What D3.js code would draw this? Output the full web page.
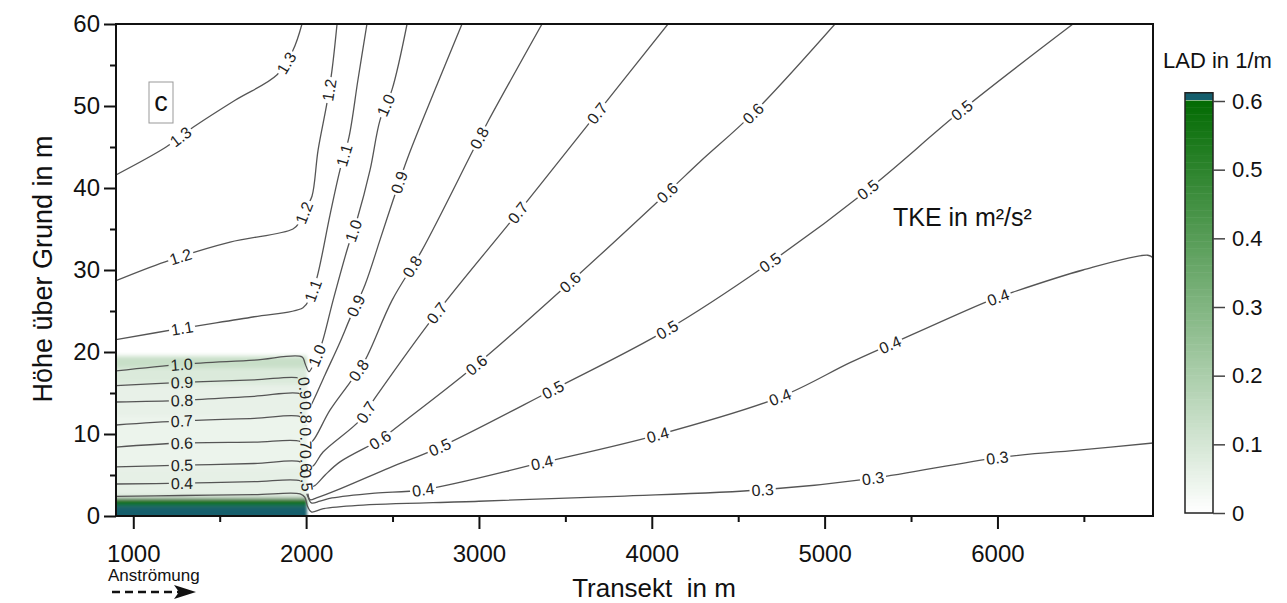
<!DOCTYPE html>
<html>
<head>
<meta charset="utf-8">
<script src="https://cdn.jsdelivr.net/npm/d3@7"></script>
<style>
body { margin: 0; background: #fff; }
svg text { font-family: "Liberation Sans", Arial, sans-serif; }
</style>
</head>
<body>
<div id="chart"></div>
<script>
// axes
var xDomain = [900, 6900];
var zDomain = [0, 60];
var xTicks = [1000, 2000, 3000, 4000, 5000, 6000];
var xMinor = [1500, 2500, 3500, 4500, 5500, 6500];
var zTicks = [0, 10, 20, 30, 40, 50, 60];
var zMinor = [5, 15, 25, 35, 45, 55];
var ladTicks = [0, 0.1, 0.2, 0.3, 0.4, 0.5, 0.6];

// forest block (m) and leaf area density profile
var forestX = [900, 2005];
var ladBands = [0, 1.3, 2.2, 3, 6, 12, 16, 18, 19.5];
var ladValues = [0.65, 0.58, 0.07, 0.06, 0.045, 0.055, 0.085, 0.13];

// TKE isolines [x in m, z in m] and label spots
var c13 = [[900,41.6],[1190,45.0],[1346,47.4],[1589,50.7],[1832,53.8],[1924,56.8],[1976,60]];
var l13 = [[1270,46.3],[1878,55.3]];
var c12 = [[900,28.7],[1184,31.0],[1560,33.4],[1924,35.0],[1965,35.9],[2000,37.6],[2034,39.0],[2069,44.6],[2121,50.4],[2150,54.4],[2179,60]];
var l12 = [[1282,31.2],[1985,37.0],[2132,52.0]];
var c11 = [[900,21.5],[1282,22.9],[1700,24.3],[1982,25.4],[2022,26.6],[2063,29.1],[2138,36.7],[2196,42.2],[2248,46.2],[2300,53.2],[2352,60]];
var l11 = [[1282,22.9],[2035,27.5],[2213,44.0]];
var c10 = [[900,17.7],[1282,18.5],[1700,19.0],[1976,19.4],[1994,18.6],[2017,17.6],[2063,19.6],[2092,21.1],[2156,26.3],[2242,32.8],[2294,36.1],[2370,42.2],[2428,48.3],[2497,52.0],[2584,60]];
var l10 = [[1282,18.5],[2063,19.6],[2259,34.9],[2462,50.1]];
var c09 = [[900,15.9],[1282,16.3],[1700,16.6],[1965,16.8],[1988,16.2],[1998,14.5],[2012,13.0],[2040,14.0],[2109,17.2],[2196,21.2],[2254,24.1],[2341,28.2],[2428,33.7],[2503,38.5],[2590,43.8],[2746,52.0],[2902,60]];
var l09 = [[1282,16.3],[1998,15.6],[2294,25.6],[2543,40.6]];
var c08 = [[900,13.9],[1282,14.1],[1700,14.6],[1965,14.9],[1990,14.2],[2002,11.5],[2016,8.9],[2040,9.2],[2138,12.9],[2254,16.3],[2341,19.0],[2497,26.3],[2670,32.4],[2966,44.6],[3047,47.9],[3365,60]];
var l08 = [[1282,14.1],[1998,12.6],[2300,17.8],[2618,30.4],[3006,46.1]];
var c07 = [[900,11.1],[1282,11.6],[1700,11.9],[1965,12.1],[1990,11.4],[2002,8.5],[2018,5.9],[2045,6.2],[2098,7.8],[2312,11.7],[2399,14.4],[2757,24.8],[3226,37.0],[3683,49.1],[4094,60]];
var l07 = [[1282,11.6],[1998,9.5],[2341,12.7],[2757,24.8],[3226,37.0],[3683,49.1]];
var c06 = [[900,8.4],[1282,8.9],[1700,9.0],[1965,9.1],[1990,8.5],[2003,6.0],[2020,3.5],[2050,3.7],[2110,5.0],[2196,6.6],[2428,9.3],[2485,10.2],[2983,18.4],[3527,28.5],[4088,39.4],[4279,43.2],[4586,49.1],[5060,60]];
var l06 = [[1282,8.9],[1998,6.7],[2428,9.3],[2983,18.4],[3527,28.5],[4088,39.4],[4586,49.1]];
var c05 = [[900,6.0],[1282,6.2],[1700,6.4],[1965,6.6],[1990,6.0],[2004,4.0],[2022,2.0],[2060,2.2],[2196,3.3],[2485,5.9],[2775,8.4],[3428,15.4],[4088,22.7],[4684,30.9],[5251,39.8],[5795,49.5],[6437,60]];
var l05 = [[1282,6.2],[1998,4.3],[2775,8.4],[3428,15.4],[4088,22.7],[4684,30.9],[5251,39.8],[5795,49.5]];
var c04 = [[900,3.9],[1282,4.0],[1700,4.2],[1965,4.3],[1990,3.8],[2006,2.6],[2030,1.6],[2080,1.8],[2150,2.2],[2399,2.8],[2676,3.2],[3365,6.5],[4036,9.9],[4742,14.5],[5147,18.7],[5378,20.9],[5957,26.3],[6090,27.3],[6495,30.0],[6870,31.8],[6900,31.5]];
var l04 = [[1282,4.0],[2676,3.2],[3365,6.5],[4036,9.9],[4742,14.5],[5378,20.9],[6003,26.6]];
var c03 = [[900,2.4],[1282,2.5],[1700,2.6],[1965,2.7],[1992,2.3],[2008,1.2],[2030,0.5],[2100,0.9],[2300,1.3],[3000,1.8],[3800,2.4],[4644,3.2],[5280,4.6],[5997,7.1],[6500,8.1],[6900,8.9]];
var l03 = [[4644,3.2],[5280,4.6],[5997,7.1]];

var contours = [
    {level: "1.3", pts: c13, labels: l13},
    {level: "1.2", pts: c12, labels: l12},
    {level: "1.1", pts: c11, labels: l11},
    {level: "1.0", pts: c10, labels: l10},
    {level: "0.9", pts: c09, labels: l09},
    {level: "0.8", pts: c08, labels: l08},
    {level: "0.7", pts: c07, labels: l07},
    {level: "0.6", pts: c06, labels: l06},
    {level: "0.5", pts: c05, labels: l05},
    {level: "0.4", pts: c04, labels: l04},
    {level: "0.3", pts: c03, labels: l03}
];

var width = 1287, height = 603;
var pLeft = 116, pRight = 1153, pTop = 24, pBottom = 516;

var svg = d3.select("#chart").append("svg")
    .attr("width", width)
    .attr("height", height);

var x = d3.scaleLinear().domain(xDomain).range([pLeft, pRight]);
var y = d3.scaleLinear().domain(zDomain).range([pBottom, pTop]);

var ladColor = function(v) {
    if (v > 0.6) return "#145e6c";
    return d3.interpolateRgb("#ffffff", "#036b03")(v / 0.6);
};

var defs = svg.append("defs");
defs.append("clipPath").attr("id", "plotclip")
    .append("rect")
    .attr("x", pLeft).attr("y", pTop)
    .attr("width", pRight - pLeft).attr("height", pBottom - pTop);
defs.append("filter").attr("id", "soft")
    .attr("x", "-5%").attr("y", "-10%").attr("width", "110%").attr("height", "120%")
    .append("feGaussianBlur").attr("stdDeviation", "1.8 2.2");

var mask = defs.append("mask").attr("id", "labelmask")
    .attr("maskUnits", "userSpaceOnUse")
    .attr("x", 0).attr("y", 0).attr("width", width).attr("height", height);
mask.append("rect").attr("width", width).attr("height", height).attr("fill", "#fff");

// forest LAD fill
var forest = svg.append("g").attr("clip-path", "url(#plotclip)")
    .append("g").attr("filter", "url(#soft)");
ladValues.forEach(function(v, i) {
    var z0 = i === 0 ? -2 : ladBands[i];
    forest.append("rect")
        .attr("x", x(forestX[0] - 200))
        .attr("y", y(ladBands[i + 1]))
        .attr("width", x(forestX[1]) - x(forestX[0] - 200))
        .attr("height", y(z0) - y(ladBands[i + 1]))
        .attr("fill", ladColor(v));
});

// isolines
var line = d3.line()
    .x(function(d) { return x(d[0]); })
    .y(function(d) { return y(d[1]); })
    .curve(d3.curveCatmullRom.alpha(0.5));

var lineG = svg.append("g")
    .attr("clip-path", "url(#plotclip)")
    .append("g")
    .attr("mask", "url(#labelmask)");
var labelG = svg.append("g");

contours.forEach(function(c) {
    var path = lineG.append("path")
        .datum(c.pts)
        .attr("d", line)
        .attr("fill", "none")
        .attr("stroke", "#555")
        .attr("stroke-width", 1.3);
    var node = path.node();
    var total = node.getTotalLength();

    c.labels.forEach(function(p) {
        var px = x(p[0]), py = y(p[1]);
        var best = 0, bestD = Infinity;
        for (var l = 0; l <= total; l += 1) {
            var q = node.getPointAtLength(l);
            var d = (q.x - px) * (q.x - px) + (q.y - py) * (q.y - py);
            if (d < bestD) { bestD = d; best = l; }
        }
        var a = node.getPointAtLength(Math.max(0, best - 5));
        var b = node.getPointAtLength(Math.min(total, best + 5));
        var ang = Math.atan2(b.y - a.y, b.x - a.x) * 180 / Math.PI;
        if (ang > 90) ang -= 180;
        if (ang < -90) ang += 180;
        var cp = node.getPointAtLength(best);
        var tr = "translate(" + cp.x + "," + cp.y + ") rotate(" + ang + ")";

        var t = labelG.append("text")
            .attr("transform", tr)
            .attr("text-anchor", "middle")
            .attr("dy", "0.36em")
            .style("font-size", "16px")
            .attr("fill", "#222")
            .text(c.level);
        var w = t.node().getComputedTextLength() + 4;
        mask.append("rect")
            .attr("transform", tr)
            .attr("x", -w / 2).attr("y", -6)
            .attr("width", w).attr("height", 12)
            .attr("fill", "#000");
    });
});

// frame
svg.append("rect")
    .attr("x", pLeft).attr("y", pTop)
    .attr("width", pRight - pLeft).attr("height", pBottom - pTop)
    .attr("fill", "none").attr("stroke", "#111").attr("stroke-width", 2);

// axes
var yAxis = svg.append("g")
    .attr("transform", "translate(" + pLeft + ",0)")
    .call(d3.axisLeft(y).tickValues(zTicks).tickSize(12).tickPadding(4));
svg.append("g")
    .attr("transform", "translate(" + pLeft + ",0)")
    .call(d3.axisLeft(y).tickValues(zMinor).tickSize(6).tickFormat(""));
var xAxis = svg.append("g")
    .attr("transform", "translate(0," + pBottom + ")")
    .call(d3.axisBottom(x).tickValues(xTicks).tickSize(13).tickPadding(16).tickFormat(d3.format("d")));
svg.append("g")
    .attr("transform", "translate(0," + pBottom + ")")
    .call(d3.axisBottom(x).tickValues(xMinor).tickSize(6).tickFormat(""));

svg.selectAll(".domain").remove();
svg.selectAll(".tick line").attr("stroke", "#111").attr("stroke-width", 2);
yAxis.selectAll("text").style("font-size", "24px").attr("fill", "#111");
xAxis.selectAll("text").style("font-size", "24px").attr("fill", "#111");

svg.append("text")
    .attr("transform", "translate(52,269) rotate(-90)")
    .attr("text-anchor", "middle")
    .style("font-size", "27px")
    .attr("fill", "#111")
    .text("Höhe über Grund in m");

svg.append("text")
    .attr("x", 654).attr("y", 597)
    .attr("text-anchor", "middle")
    .style("font-size", "26px")
    .style("white-space", "pre")
    .attr("fill", "#111")
    .text("Transekt  in m");

// flow direction
svg.append("text")
    .attr("x", 108).attr("y", 581)
    .style("font-size", "17px")
    .attr("fill", "#111")
    .text("Anströmung");
svg.append("line")
    .attr("x1", 112).attr("y1", 592).attr("x2", 180).attr("y2", 592)
    .attr("stroke", "#111").attr("stroke-width", 2.5)
    .attr("stroke-dasharray", "8,5");
svg.append("path")
    .attr("d", "M174,585 L196,592 L174,599 L179,592 Z")
    .attr("fill", "#111");

// panel tag
svg.append("rect")
    .attr("x", 149).attr("y", 82).attr("width", 24).attr("height", 41)
    .attr("fill", "none").attr("stroke", "#999").attr("stroke-width", 1);
svg.append("text")
    .attr("x", 161).attr("y", 111)
    .attr("text-anchor", "middle")
    .style("font-size", "27px")
    .attr("fill", "#111")
    .text("c");

svg.append("text")
    .attr("x", 893).attr("y", 226)
    .style("font-size", "25px")
    .attr("fill", "#111")
    .text("TKE in m²/s²");

// colour bar
var barX = 1185, barW = 28;
var lad = d3.scaleLinear().domain([0, 0.6]).range([513, 101]);
var barTop = 0.612;
var steps = d3.range(0, 0.6, 0.005);
var bar = svg.append("g");
steps.forEach(function(s) {
    bar.append("rect")
        .attr("x", barX).attr("y", lad(s + 0.005) - 0.5)
        .attr("width", barW).attr("height", lad(s) - lad(s + 0.005) + 0.5)
        .attr("fill", ladColor(s + 0.0025));
});
bar.append("rect")
    .attr("x", barX).attr("y", lad(barTop))
    .attr("width", barW).attr("height", lad(0.6) - lad(barTop) - 1)
    .attr("fill", ladColor(0.65));
bar.append("rect")
    .attr("x", barX).attr("y", lad(barTop))
    .attr("width", barW).attr("height", lad(0) - lad(barTop))
    .attr("fill", "none").attr("stroke", "#222").attr("stroke-width", 1.5);

var cAxis = svg.append("g")
    .attr("transform", "translate(" + (barX + barW) + ",0)")
    .call(d3.axisRight(lad).tickValues(ladTicks).tickSize(12).tickPadding(7)
        .tickFormat(function(d) { return d === 0 ? "0" : d3.format(".1f")(d); }));
cAxis.select(".domain").remove();
cAxis.selectAll(".tick line").attr("stroke", "#444").attr("stroke-width", 1.5);
cAxis.selectAll("text").style("font-size", "22px").attr("fill", "#111");

svg.append("text")
    .attr("x", 1163).attr("y", 68)
    .style("font-size", "22px")
    .attr("fill", "#111")
    .text("LAD in 1/m");
</script>
</body>
</html>
